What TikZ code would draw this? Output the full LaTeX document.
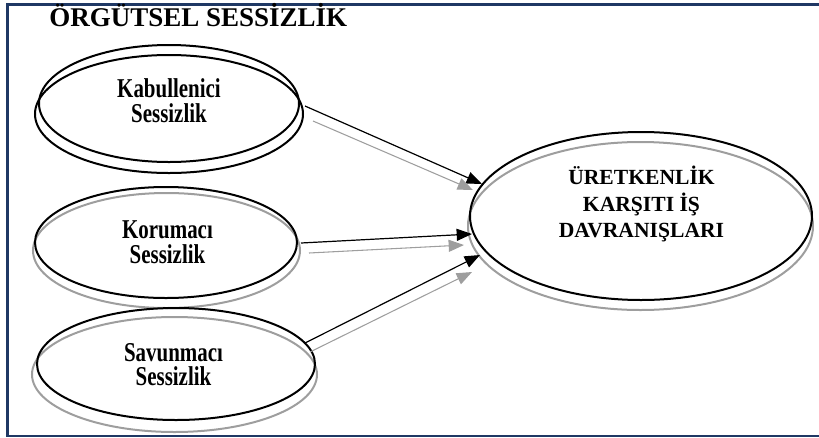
\documentclass[tikz,border=0pt]{standalone}
\usepackage{fontspec}
\setmainfont{Liberation Serif}
\usepackage{graphicx}
\usetikzlibrary{arrows.meta,shapes.geometric}
\definecolor{framenavy}{RGB}{31,56,100}
\definecolor{rimgray}{RGB}{158,158,158}
\def\tallpair#1#2{\scalebox{1}[1.3]{\begin{tabular}{@{}c@{}}#1\\#2\end{tabular}}}

\tikzset{
	rim/.style 2 args={ellipse, inner sep=0pt, outer sep=0pt, line width=1.5pt, minimum width=#1*0.75pt, minimum height=#2*0.75pt},
	smalllabel/.style={inner sep=0pt, font=\bfseries\fontsize{15.7}{11}\selectfont},
	biglabel/.style={inner sep=0pt, font=\bfseries\fontsize{16.2}{19.9}\selectfont},
	blackarrow/.style={-{Triangle[length=11.5pt,width=9pt]}, line width=0.9pt, color=black},
	grayarrow/.style={-{Triangle[length=11.5pt,width=9pt]}, line width=0.8pt, color=rimgray},
}

\begin{document}
\begin{tikzpicture}[x=0.75pt, y=-0.75pt]
		%%%%% START %%%%%
		\useasboundingbox (0, 0) rectangle (819, 437);
		\clip (0, 0) rectangle (819, 437);
		
		\draw[line width=2.2pt, color=framenavy] (7.5, 4.5) rectangle (840, 436);
		\node[anchor=base west, inner sep=0pt, font=\bfseries\fontsize{20.25}{24}\selectfont] (title) at (49, 26) {ÖRGÜTSEL SESSİZLİK};
		
		% left ellipses
		\node[rim={268}{118}, draw=black] (kabb) at (169, 114) {};
		\node[rim={260}{117}, draw=black] (kab) at (169, 103.5) {};
		\node[smalllabel] (kabtxt) at (169, 103.2) {\tallpair{Kabullenici}{Sessizlik}};
		
		\node[rim={267}{115}, draw=rimgray] (korg) at (166.5, 250.5) {};
		\node[rim={262}{111}, draw=black] (kor) at (166, 242.5) {};
		\node[smalllabel] (kortxt) at (167.5, 245.2) {\tallpair{Korumacı}{Sessizlik}};
		
		\node[rim={285}{115}, draw=rimgray] (savg) at (174.5, 374.5) {};
		\node[rim={278}{112}, draw=black] (sav) at (176, 364) {};
		\node[smalllabel] (savtxt) at (173.5, 367.2) {\tallpair{Savunmacı}{Sessizlik}};
		
		% right ellipse
		\node[rim={345}{168}, draw=rimgray] (uretg) at (640.5, 226) {};
		\node[rim={342}{168}, draw=black] (uret) at (641, 216) {};
		\node[biglabel, align=center] (urettxt) at (641.5, 205.7) {\begin{tabular}{@{}c@{}}ÜRETKENLİK\\KARŞITI İŞ\\DAVRANIŞLARI\end{tabular}};
		
		% arrows
		\draw[blackarrow] ([shift={(6,2.5)}]kab.east) -- ([shift={(12,-32)}]uret.west);
		\draw[grayarrow] ([shift={(14,17.5)}]kab.east) -- ([shift={(3,-26)}]uret.west);
		
		\draw[blackarrow] ([shift={(4,0.5)}]kor.east) -- ([shift={(2,18)}]uret.west);
		\draw[grayarrow] ([shift={(12,10.5)}]kor.east) -- ([shift={(-6,29)}]uret.west);
		
		\draw[blackarrow] ([shift={(-10,-21)}]sav.east) -- ([shift={(10,39)}]uret.west);
		\draw[grayarrow] ([shift={(-5,-12)}]sav.east) -- ([shift={(2,56)}]uret.west);
		
		%%%%% END %%%%%
	\end{tikzpicture}
\end{document}
